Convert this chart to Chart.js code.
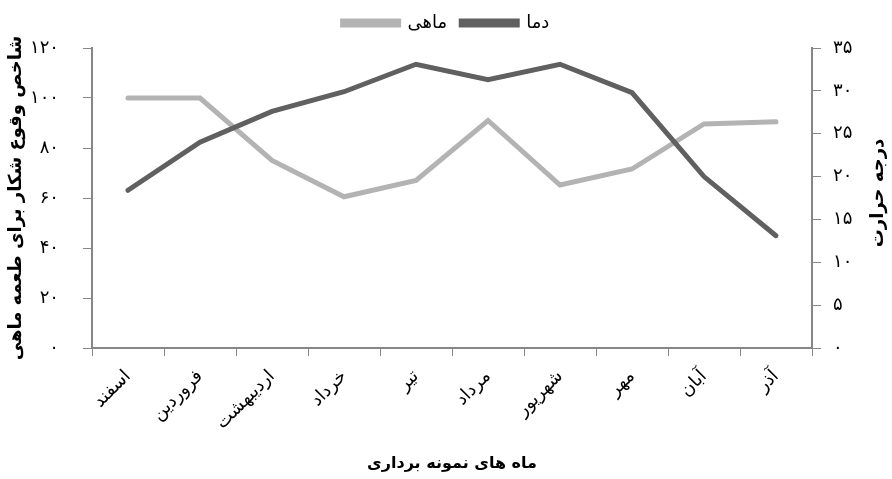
<!DOCTYPE html>
<html>
<head>
<meta charset="utf-8">
<script src="https://cdn.jsdelivr.net/npm/chart.js@4"></script>
<style>
  html, body { margin: 0; padding: 0; background: #fff; }
  #wrap { width: 892px; height: 479px; }
</style>
</head>
<body>
<div id="wrap"><canvas id="chartCanvas" width="892" height="479"></canvas></div>
<script>
const months = ['اسفند', 'فروردین', 'اردیبهشت', 'خرداد', 'تیر', 'مرداد', 'شهریور', 'مهر', 'آبان', 'آذر'];
const fishValues = [100, 100, 75, 60.5, 67, 91, 65.2, 71.6, 89.6, 90.5];
const tempValues = [18.4, 24, 27.6, 29.9, 33.1, 31.3, 33.1, 29.8, 20, 13.1];
const fishLabel = 'ماهی';
const tempLabel = 'دما';
const leftTitle = 'شاخص وقوع شکار برای طعمه ماهی';
const rightTitle = 'درجه حرارت';
const bottomTitle = 'ماه های نمونه برداری';

const faDigits = '۰۱۲۳۴۵۶۷۸۹';
const toFa = (n) => String(n).replace(/\d/g, (d) => faDigits[d]);

const font = 'DejaVu Sans';
const axisColor = '#868686';

// right axis title reads top-to-bottom like the left one, so draw it here
const rightTitlePlugin = {
  id: 'rightTitle',
  afterDraw(chart) {
    const c = chart.ctx;
    const area = chart.chartArea;
    c.save();
    c.translate(878, (area.top + area.bottom) / 2 - 5);
    c.rotate(-Math.PI / 2);
    c.font = 'bold 18px "' + font + '"';
    c.fillStyle = '#000';
    c.textAlign = 'center';
    c.textBaseline = 'middle';
    c.fillText(rightTitle, 0, 0);
    c.restore();
  }
};

// a bit more room under the legend
const legendGap = {
  id: 'legendGap',
  beforeLayout(chart) {
    const lg = chart.legend;
    if (lg && !lg._gapDone) {
      const fit = lg.fit;
      lg.fit = function () {
        fit.call(this);
        this.height += 6;
      };
      lg._gapDone = true;
    }
  }
};

document.addEventListener('DOMContentLoaded', () => {
  const ctx = document.getElementById('chartCanvas').getContext('2d');

  new Chart(ctx, {
    type: 'line',
    data: {
      labels: months,
      datasets: [
        {
          label: tempLabel,
          data: tempValues,
          yAxisID: 'y2',
          borderColor: '#606060',
          backgroundColor: '#606060',
          borderWidth: 5,
          borderCapStyle: 'round',
          pointRadius: 0,
          tension: 0
        },
        {
          label: fishLabel,
          data: fishValues,
          yAxisID: 'y',
          borderColor: '#b3b3b3',
          backgroundColor: '#b3b3b3',
          borderWidth: 5,
          borderCapStyle: 'round',
          pointRadius: 0,
          tension: 0
        }
      ]
    },
    options: {
      responsive: false,
      animation: false,
      layout: { padding: { top: 0, left: 0, right: 0, bottom: 0 } },
      plugins: {
        tooltip: { enabled: false },
        legend: {
          position: 'top',
          reverse: true,
          labels: {
            color: '#000',
            font: { family: font, size: 18 },
            boxWidth: 56,
            boxHeight: 4,
            padding: 14
          }
        }
      },
      scales: {
        x: {
          offset: true,
          grid: { offset: true, drawOnChartArea: false, drawTicks: true, tickLength: 8, color: axisColor },
          border: { color: axisColor, width: 2 },
          ticks: {
            color: '#000',
            font: { family: font, size: 18 },
            maxRotation: 45,
            minRotation: 45,
            padding: 10
          },
          title: {
            display: true,
            text: bottomTitle,
            color: '#000',
            font: { family: font, size: 16, weight: 'bold' },
            padding: { top: 10, bottom: 6 }
          },
          afterFit: (scale) => { scale.height = 131; }
        },
        y: {
          position: 'left',
          min: 0,
          max: 120,
          ticks: {
            stepSize: 20,
            color: '#000',
            font: { family: font, size: 18 },
            padding: 24,
            callback: (v) => toFa(v)
          },
          grid: { drawOnChartArea: false, drawTicks: true, tickLength: 9, color: axisColor },
          border: { color: axisColor, width: 2 },
          title: {
            display: true,
            text: leftTitle,
            color: '#000',
            font: { family: font, size: 18, weight: 'bold' },
            padding: { top: 6, bottom: 0 }
          },
          afterFit: (scale) => { scale.width = 92; }
        },
        y2: {
          position: 'right',
          min: 0,
          max: 35,
          ticks: {
            stepSize: 5,
            color: '#000',
            font: { family: font, size: 18 },
            padding: 12,
            callback: (v) => toFa(v)
          },
          grid: { drawOnChartArea: false, drawTicks: true, tickLength: 9, color: axisColor },
          border: { color: axisColor, width: 2 },
          afterFit: (scale) => { scale.width = 80; }
        }
      }
    },
    plugins: [rightTitlePlugin, legendGap]
  });
});
</script>
</body>
</html>
